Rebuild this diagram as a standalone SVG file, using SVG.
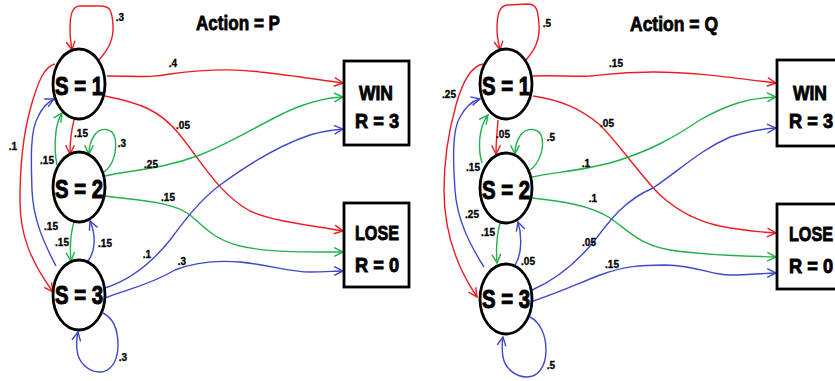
<svg xmlns="http://www.w3.org/2000/svg" width="835" height="381" viewBox="0 0 835 381">
<style>
text{font-family:"Liberation Sans",Arial,sans-serif;font-weight:bold;fill:#000}
.node{fill:#fff;stroke:#000;stroke-width:2.8}
.nt{font-size:25px;text-anchor:middle;stroke:#000;stroke-width:1}
.bt{font-size:21px;stroke:#000;stroke-width:0.9}
.title{font-size:21px;text-anchor:middle;stroke:#000;stroke-width:0.8}
.lb{font-size:10px;text-anchor:middle;stroke:#000;stroke-width:0.3}
.e{fill:none;stroke-width:1.4}
.r{stroke:#ED1C24}.g{stroke:#22B14C}.b{stroke:#3F48CC}
</style>
<defs>
<marker id="mr" viewBox="0 0 10 10" refX="9" refY="5" markerWidth="11" markerHeight="11" markerUnits="userSpaceOnUse" orient="auto"><path d="M1,1 L9,5 L1,9" fill="none" stroke="#ED1C24" stroke-width="1.3"/></marker>
<marker id="mg" viewBox="0 0 10 10" refX="9" refY="5" markerWidth="11" markerHeight="11" markerUnits="userSpaceOnUse" orient="auto"><path d="M1,1 L9,5 L1,9" fill="none" stroke="#22B14C" stroke-width="1.3"/></marker>
<marker id="mb" viewBox="0 0 10 10" refX="9" refY="5" markerWidth="11" markerHeight="11" markerUnits="userSpaceOnUse" orient="auto"><path d="M1,1 L9,5 L1,9" fill="none" stroke="#3F48CC" stroke-width="1.3"/></marker>
</defs>
<rect width="835" height="381" fill="#fff"/>

<text class="title" x="238" y="30" textLength="84" lengthAdjust="spacingAndGlyphs">Action = P</text>
<text class="title" x="674" y="31" textLength="88" lengthAdjust="spacingAndGlyphs">Action = Q</text>

<g id="connectors">
<!-- Left panel -->
<path class="e r" marker-end="url(#mr)" d="M98,61 C108,50 114,40 113,25 C112,10 110,6 100,6 L80,6 C72,6 70,15 70,30 C70,38 71,44 72,50"/>
<path class="e r" marker-end="url(#mr)" d="M107,76 C140,76 150,78 170,74 C200,70 230,68 260,72 C290,75 320,80 343,83"/>
<path class="e r" marker-end="url(#mr)" d="M105,96 C140,103 160,110 180,135 C200,160 220,195 250,211 C275,222 310,225 343,231"/>
<path class="e r" marker-end="url(#mr)" d="M74,120 C71,132 70,143 70,154"/>
<path class="e r" marker-end="url(#mr)" d="M55,64 C45,66 38,80 30,110 C22,140 20,170 20,200 C20,235 30,260 53,292"/>

<path class="e g" marker-end="url(#mg)" d="M104,172 C114,165 117,150 115,138 C113,128 100,126 94,136 C90,142 89,148 89,154"/>
<path class="e g" marker-end="url(#mg)" d="M57,165 C54,150 54,125 62,113"/>
<path class="e g" marker-end="url(#mg)" d="M105,176 C130,170 160,170 200,155 C230,143 250,130 280,115 C300,105 320,98 343,97"/>
<path class="e g" marker-end="url(#mg)" d="M105,196 C130,200 170,200 190,215 C205,228 215,240 240,246 C270,253 310,252 343,252"/>
<path class="e g" marker-end="url(#mg)" d="M74,222 C70,235 70,250 71,261"/>

<path class="e b" marker-end="url(#mb)" d="M87,262 C96,252 96,235 90,221"/>
<path class="e b" marker-end="url(#mb)" d="M56,266 C45,245 33,220 32,190 C31,160 30,130 38,117 C42,108 48,102 54,99"/>
<path class="e b" marker-end="url(#mb)" d="M103,313 C113,318 118,330 118,345 C118,362 110,372 100,372 C88,372 78,362 77,350 C76,343 77,337 78,332"/>
<path class="e b" marker-end="url(#mb)" d="M105,288 C130,280 150,265 170,240 C185,220 200,200 220,185 C250,163 280,145 310,135 C320,132 330,130 343,129"/>
<path class="e b" marker-end="url(#mb)" d="M105,298 C125,290 150,285 175,270 C195,262 215,260 240,262 C270,265 290,272 310,272 C325,272 335,271 343,271"/>

<!-- Right panel -->
<path class="e r" marker-end="url(#mr)" d="M525,61 C535,50 540,40 539,25 C538,10 537,4 527,4 L507,5 C499,6 497,15 497,30 C497,38 499,44 500,50"/>
<path class="e r" marker-end="url(#mr)" d="M533,76 C555,75 575,77 590,76 C610,74 620,72 653,72 C690,72 720,76 776,83"/>
<path class="e r" marker-end="url(#mr)" d="M533,96 C560,100 580,108 600,125 C620,145 640,175 660,195 C680,213 700,222 720,226 C740,230 760,232 776,233"/>
<path class="e r" marker-end="url(#mr)" d="M498,120 C497,132 496,143 496,154"/>
<path class="e r" marker-end="url(#mr)" d="M483,64 C472,66 463,80 456,105 C449,130 444,160 444,190 C444,225 452,260 477,297"/>

<path class="e g" marker-end="url(#mg)" d="M530,170 C540,163 544,148 542,138 C540,128 527,126 520,136 C516,142 515,148 515,154"/>
<path class="e g" marker-end="url(#mg)" d="M482,163 C478,150 478,128 488,115"/>
<path class="e g" marker-end="url(#mg)" d="M532,177 C555,172 590,170 620,160 C650,150 670,140 700,120 C730,103 750,98 776,97"/>
<path class="e g" marker-end="url(#mg)" d="M532,198 C560,201 590,205 610,218 C630,232 640,245 670,250 C710,256 745,256 776,257"/>
<path class="e g" marker-end="url(#mg)" d="M500,223 C496,238 496,250 497,263"/>

<path class="e b" marker-end="url(#mb)" d="M515,265 C522,255 522,235 518,222"/>
<path class="e b" marker-end="url(#mb)" d="M484,267 C470,245 457,220 455,190 C453,160 452,130 460,117 C465,108 472,101 480,99"/>
<path class="e b" marker-end="url(#mb)" d="M530,317 C540,322 546,335 546,350 C546,368 537,377 527,377 C515,377 505,368 503,357 C502,350 502,343 503,337"/>
<path class="e b" marker-end="url(#mb)" d="M532,290 C555,280 575,265 595,240 C610,220 625,200 653,188 C680,170 700,150 730,137 C750,131 760,129 776,128"/>
<path class="e b" marker-end="url(#mb)" d="M533,301 C555,294 575,285 600,275 C625,266 640,265 665,265 C700,266 710,275 730,275 C750,275 765,273 776,273"/>
</g>

<g id="node-P-S1"><ellipse class="node" cx="79" cy="84" rx="26" ry="35"/><text class="nt" x="79" y="95" textLength="48" lengthAdjust="spacingAndGlyphs">S = 1</text></g>
<g id="node-P-S2"><ellipse class="node" cx="79" cy="187" rx="26" ry="35"/><text class="nt" x="79" y="198" textLength="48" lengthAdjust="spacingAndGlyphs">S = 2</text></g>
<g id="node-P-S3"><ellipse class="node" cx="79" cy="295" rx="26" ry="35"/><text class="nt" x="79" y="304" textLength="48" lengthAdjust="spacingAndGlyphs">S = 3</text></g>
<g id="node-P-WIN"><rect class="node" x="344" y="61" width="65" height="84"/><text class="bt" x="359" y="100" textLength="34" lengthAdjust="spacingAndGlyphs">WIN</text><text class="bt" x="355" y="128" textLength="44" lengthAdjust="spacingAndGlyphs">R = 3</text></g>
<g id="node-P-LOSE"><rect class="node" x="344" y="203" width="65" height="84"/><text class="bt" x="355" y="240" textLength="44" lengthAdjust="spacingAndGlyphs">LOSE</text><text class="bt" x="355" y="272" textLength="44" lengthAdjust="spacingAndGlyphs">R = 0</text></g>

<g id="node-Q-S1"><ellipse class="node" cx="506" cy="84" rx="26" ry="35"/><text class="nt" x="506" y="95" textLength="48" lengthAdjust="spacingAndGlyphs">S = 1</text></g>
<g id="node-Q-S2"><ellipse class="node" cx="506" cy="188" rx="26" ry="35"/><text class="nt" x="506" y="199" textLength="48" lengthAdjust="spacingAndGlyphs">S = 2</text></g>
<g id="node-Q-S3"><ellipse class="node" cx="506" cy="299" rx="26" ry="35"/><text class="nt" x="506" y="308" textLength="48" lengthAdjust="spacingAndGlyphs">S = 3</text></g>
<g id="node-Q-WIN"><rect class="node" x="777" y="60" width="70" height="86"/><text class="bt" x="793" y="100" textLength="34" lengthAdjust="spacingAndGlyphs">WIN</text><text class="bt" x="789" y="128" textLength="44" lengthAdjust="spacingAndGlyphs">R = 3</text></g>
<g id="node-Q-LOSE"><rect class="node" x="777" y="204" width="70" height="85"/><text class="bt" x="789" y="241" textLength="44" lengthAdjust="spacingAndGlyphs">LOSE</text><text class="bt" x="789" y="273" textLength="44" lengthAdjust="spacingAndGlyphs">R = 0</text></g>

<g id="labels">
<text class="lb" x="120" y="21">.3</text>
<text class="lb" x="173" y="67">.4</text>
<text class="lb" x="183" y="129">.05</text>
<text class="lb" x="81" y="137">.15</text>
<text class="lb" x="122" y="147">.3</text>
<text class="lb" x="13" y="150">.1</text>
<text class="lb" x="47" y="164">.15</text>
<text class="lb" x="151" y="168">.25</text>
<text class="lb" x="51" y="230">.15</text>
<text class="lb" x="168" y="201">.15</text>
<text class="lb" x="62" y="246">.15</text>
<text class="lb" x="105" y="247">.15</text>
<text class="lb" x="147" y="258">.1</text>
<text class="lb" x="182" y="265">.3</text>
<text class="lb" x="123" y="361">.3</text>

<text class="lb" x="547" y="27">.5</text>
<text class="lb" x="616" y="67">.15</text>
<text class="lb" x="607" y="127">.05</text>
<text class="lb" x="503" y="138">.05</text>
<text class="lb" x="551" y="141">.5</text>
<text class="lb" x="473" y="171">.15</text>
<text class="lb" x="586" y="167">.1</text>
<text class="lb" x="449" y="98">.25</text>
<text class="lb" x="472" y="218">.25</text>
<text class="lb" x="488" y="236">.15</text>
<text class="lb" x="528" y="265">.05</text>
<text class="lb" x="593" y="202">.1</text>
<text class="lb" x="589" y="246">.05</text>
<text class="lb" x="612" y="268">.15</text>
<text class="lb" x="551" y="369">.5</text>
</g>
</svg>
